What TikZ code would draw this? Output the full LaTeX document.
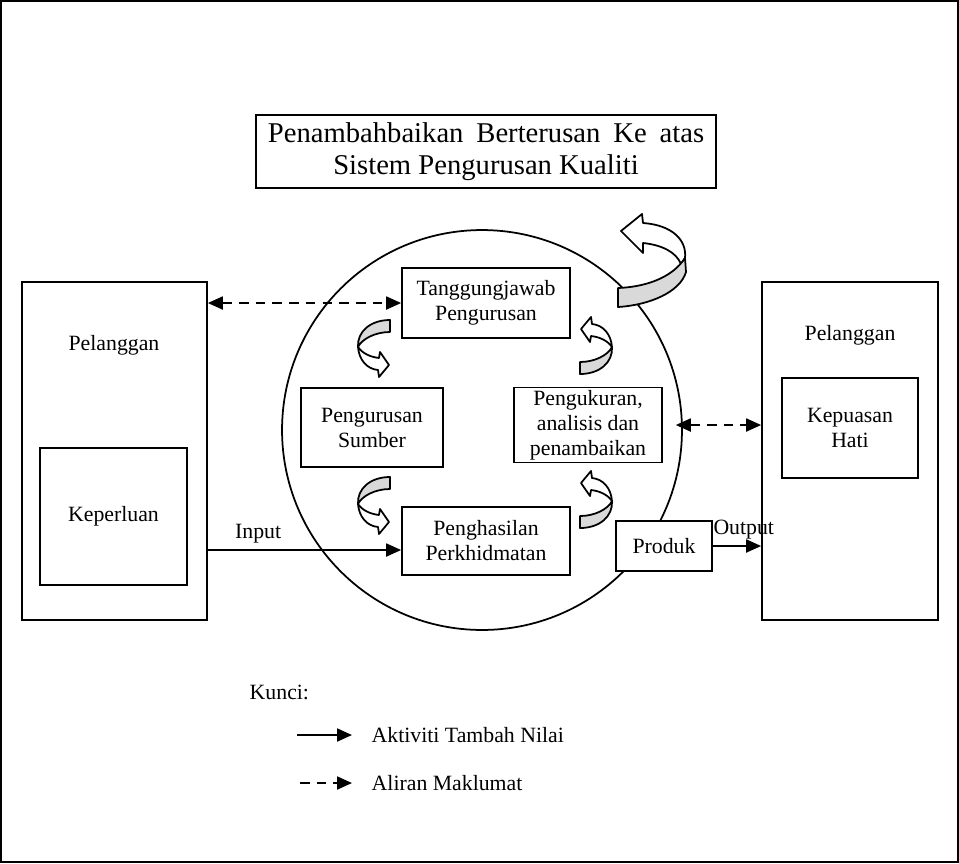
\documentclass[tikz,border=0pt]{standalone}
\usepackage{fontspec}
\setmainfont{Liberation Serif}
\usetikzlibrary{arrows.meta}

% small twisted arrow, origin at the flat grey end
\newcommand\turnarrow[2]{%
  \begin{scope}[shift={#1}, rotate=#2]
    \filldraw[fill=white, line join=round] (-32,27) .. controls (-31,40) and (-23,49) .. (-12,50) -- (-11,57) -- (-1,45) -- (-10,32) -- (-11,38) .. controls (-20,37) and (-28,33) .. (-32,27) -- cycle;
    \filldraw[fill=gray!30, line join=round] (0,0) .. controls (-20,0) and (-33,12) .. (-32,27) .. controls (-28,19) and (-15,12) .. (0,12) -- cycle;
  \end{scope}}
\newcommand\gap{\hspace{0.2em}}

\begin{document}
\begin{tikzpicture}[x=0.02cm, y=-0.02cm, line width=1pt,
    every node/.style={font=\fontsize{12.4}{14.2}\selectfont},
    box/.style={draw, fill=white, line width=1pt, align=center, inner sep=0pt},
    flow/.style={-{Triangle[length=8.5pt, width=7.4pt]}, line width=1pt},
    info/.style={{Triangle[length=8.5pt, width=7.4pt]}-{Triangle[length=8.5pt, width=7.4pt]}, dash pattern=on 5.5pt off 4pt, line width=1pt}]
    \useasboundingbox (0,0) rectangle (959,863);
    \draw[line width=0.6pt] (1,1) rectangle (958,862);

    % Title
    \node[box, minimum width=9.2cm, minimum height=1.46cm, font=\fontsize{16.3}{18}\selectfont] (title) at (486,151.5) {Penambahbaikan\gap{} Berterusan\gap{} Ke\gap{} atas\\Sistem Pengurusan Kualiti};

    % Circle
    \node[draw, circle, minimum size=8cm, line width=1pt] (ring) at (482,430) {};

    % Customers
    \node[box, minimum width=3.7cm, minimum height=6.76cm] (custL) at (114.5,451) {};
    \node (custLtxt) at (114,345) {Pelanggan};
    \node[box, minimum width=2.94cm, minimum height=2.74cm] (need) at (113.5,516.5) {Keperluan};
    \node[box, minimum width=3.52cm, minimum height=6.76cm] (custR) at (850,451) {};
    \node (custRtxt) at (850,335) {Pelanggan};
    \node[box, minimum width=2.72cm, minimum height=2cm] (satisf) at (850,428) {Kepuasan\\Hati};

    % Processes
    \node[box, minimum width=3.36cm, minimum height=1.4cm] (resp) at (486,303) {Tanggungjawab\\Pengurusan};
    \node[box, minimum width=2.84cm, minimum height=1.58cm] (resrc) at (372,427.5) {Pengurusan\\Sumber};
    \node[box, minimum width=2.96cm, minimum height=1.5cm] (meas) at (588,425) {Pengukuran,\\analisis dan\\penambaikan};
    \node[box, minimum width=3.36cm, minimum height=1.36cm] (prod) at (486,541) {Penghasilan\\Perkhidmatan};
    \node[box, minimum width=1.92cm, minimum height=1cm] (item) at (664,546) {Produk};

    % Turn arrows
    \turnarrow{(390,320)}{0}
    \turnarrow{(390,477)}{0}
    \turnarrow{(580,374)}{180}
    \turnarrow{(580,528)}{180}
    \filldraw[fill=white, line join=round] (685,258) .. controls (687,240) and (672,225) .. (643,223) -- (642,214) -- (621,231) -- (643,253) -- (643,243) .. controls (662,245) and (676,252) .. (681,264) -- cycle;
    \filldraw[fill=gray!30, line join=round] (618,288) .. controls (645,287) and (672,278) .. (685,258) -- (686,272) .. controls (680,292) and (650,305) .. (618,307) -- cycle;

    % Arrows
    \coordinate (inA) at ([yshift=-0.18cm]prod.west);
    \draw[flow] (custL.east |- inA) -- (inA) node[pos=0.26, above] {Input};
    \draw[flow] (item.east) -- (item.east -| custR.west) node[pos=0.64, above] {Output};
    \draw[info] (resp.west -| custL.east) -- (resp.west);
    \draw[info] ([xshift=-4pt]meas.east -| ring.east) -- (meas.east -| custR.west);

    % Key
    \node[right] (key) at (243,692) {Kunci:};
    \coordinate (k1a) at (297,735);
    \coordinate (k1b) at (352,735);
    \coordinate (k2a) at (300,783);
    \coordinate (k2b) at (352,783);
    \draw[flow] (k1a) -- (k1b) node[right, xshift=0.26cm] (k1) {Aktiviti Tambah Nilai};
    \draw[flow, dash pattern=on 5.5pt off 4pt] (k2a) -- (k2b) node[right, xshift=0.26cm] (k2) {Aliran Maklumat};
\end{tikzpicture}
\end{document}
